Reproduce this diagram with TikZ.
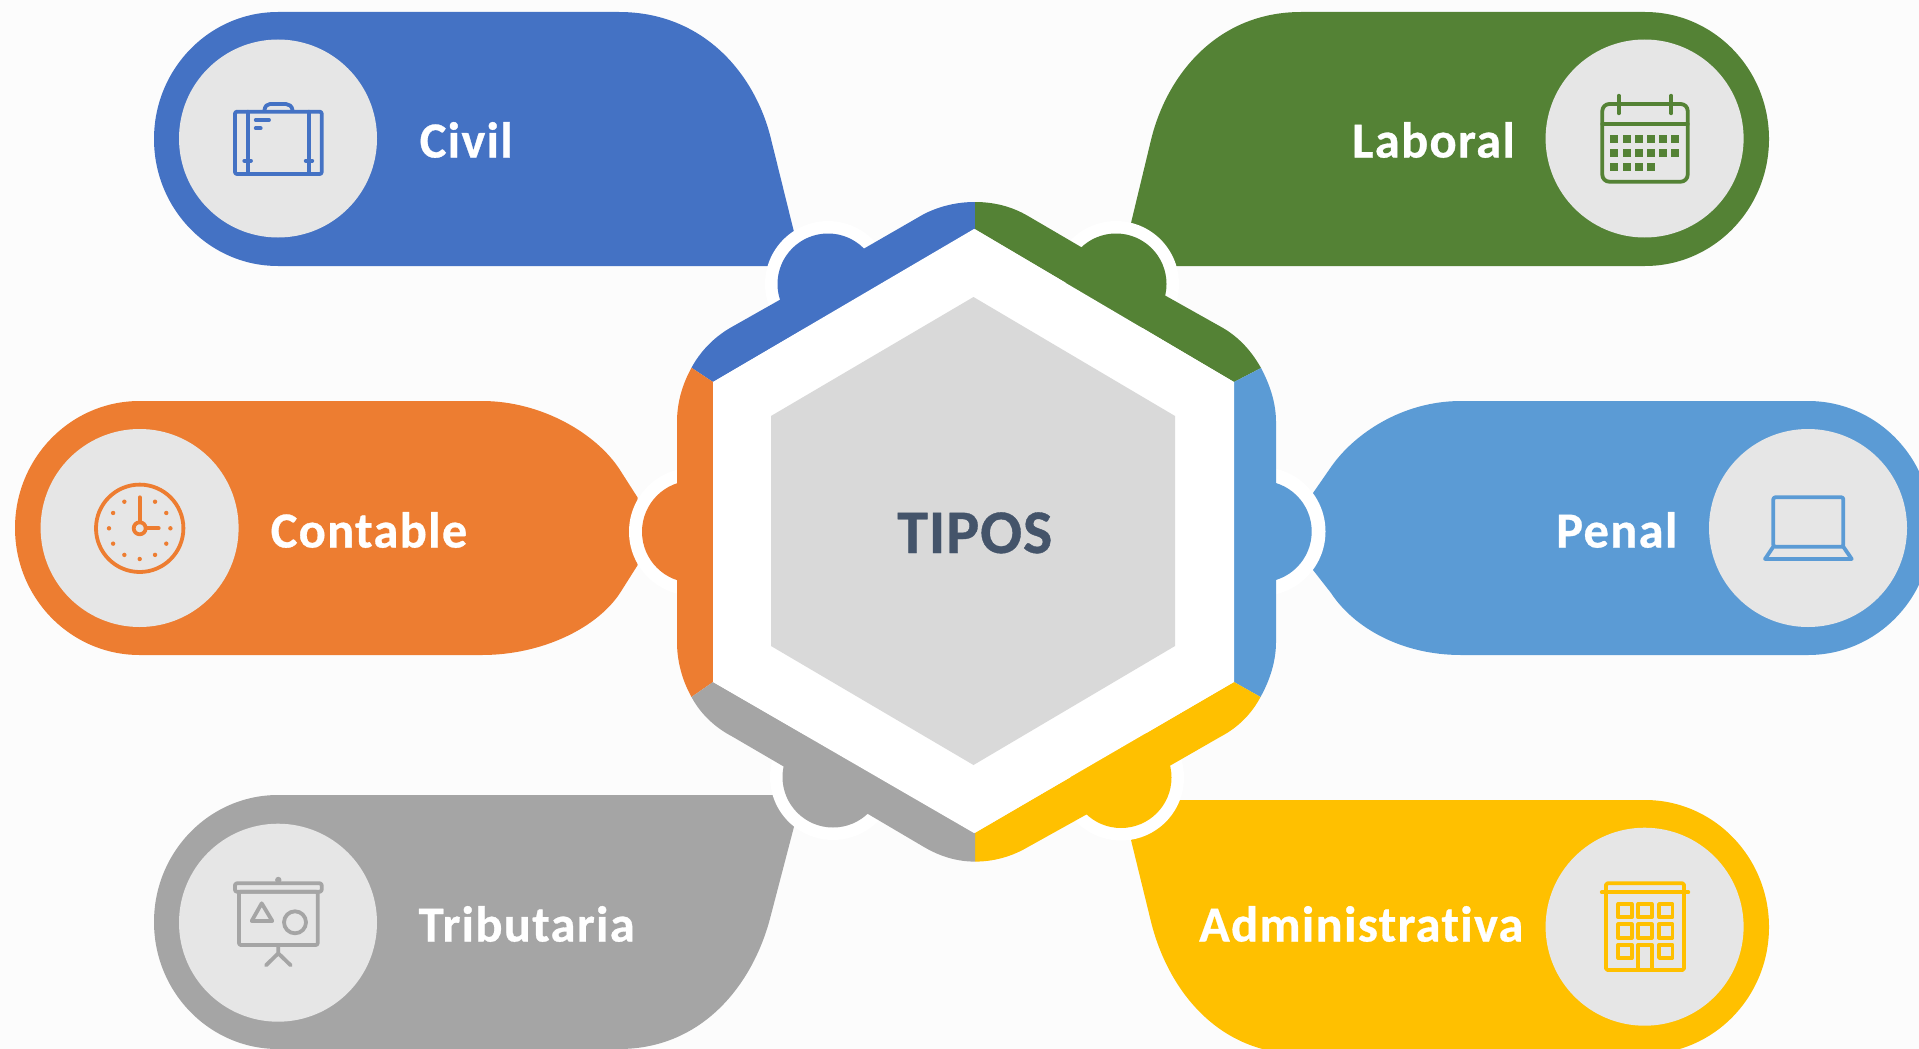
\documentclass[tikz,border=0pt]{standalone}
\usepackage{fontspec}
\setmainfont{Carlito}
\newfontface\labfont{Carlito Bold}[LetterSpace=2.6,FakeBold=0.6,Ligatures=NoCommon]
\newfontface\hexfont{Carlito Bold}[LetterSpace=1.5,FakeBold=0.6,Ligatures=NoCommon]
\definecolor{cbg}{HTML}{FCFCFC}
\definecolor{cblue}{HTML}{4472C4}
\definecolor{cgreen}{HTML}{548235}
\definecolor{corange}{HTML}{ED7D31}
\definecolor{csky}{HTML}{5B9BD5}
\definecolor{cgray}{HTML}{A5A5A5}
\definecolor{cgold}{HTML}{FFC000}
\definecolor{cdisc}{HTML}{E6E6E6}
\definecolor{chex}{HTML}{D9D9D9}
\definecolor{ctext}{HTML}{44546A}
\tikzset{
  disc/.style={fill=cdisc},
  ring/.style={fill=white},
  icon/.style={draw=#1,line width=3.8pt,line cap=round,line join=round},
  label/.style={anchor=base west,inner sep=0pt,text=white,font=\labfont\fontsize{#1}{#1}\selectfont},
}
\begin{document}
\begin{tikzpicture}[x=1pt,y=-1pt]
\useasboundingbox (0,0) rectangle (1919,1049);
\clip (0,0) rectangle (1919,1049);
\fill[cbg] (0,0) rectangle (1919,1049);
% pills
\fill[cblue] (278,12) arc[start angle=270,end angle=90,x radius=124,y radius=127] -- (775,266) -- (794,232) -- (770.5,137) .. controls (754,72) and (702,12) .. (619,12) -- cycle;
\fill[cgreen] (1645,12) arc[start angle=-90,end angle=90,x radius=124,y radius=127] -- (1170,266) -- (1131,223) -- (1151,140) .. controls (1167,74) and (1218,12) .. (1301,12) -- cycle;
\fill[corange] (139.6,401) arc[start angle=270,end angle=90,x radius=124.6,y radius=127] -- (482,655) .. controls (542,655) and (597,628) .. (620,593) -- (637.7,565) -- (637.7,497.7) -- (620,470) .. controls (597,434) and (542,401) .. (482,401) -- cycle;
\fill[csky] (1808,401) arc[start angle=-90,end angle=90,x radius=124,y radius=127] -- (1461,655) .. controls (1402,655) and (1354,628) .. (1331,593) -- (1313,570) -- (1313,493) -- (1331,467) .. controls (1354,434) and (1402,401) .. (1461,401) -- cycle;
\fill[cgray] (278,795) arc[start angle=270,end angle=90,x radius=124,y radius=127] -- (619,1049) .. controls (702,1049) and (753,985) .. (770.5,916.7) -- (794,826.7) -- (780,795) -- cycle;
\fill[cgold] (1645,800) arc[start angle=-90,end angle=90,x radius=124,y radius=127] -- (1301,1054) .. controls (1218,1054) and (1168,990) .. (1151,921.7) -- (1131,840) -- (1175,800) -- cycle;
% white rings
\fill[ring] (828,284) circle[radius=63];
\fill[ring] (1116,284) circle[radius=63];
\fill[ring] (693,531.7) circle[radius=64];
\fill[ring] (1261,531.5) circle[radius=64.5];
\fill[ring] (833,777) circle[radius=63];
\fill[ring] (1121,777.5) circle[radius=63];
% ring segments and knobs
\fill[cblue] (975,202) .. controls (957,202) and (940,206) .. (924,214) -- (865,248) -- (779.5,300) -- (730,328) .. controls (713,338) and (700,352) .. (691.5,367.7) -- (713,382) -- (975,229) -- cycle;
\fill[cblue] (828,284) circle[radius=50.5];
\fill[cgreen] (975,202) .. controls (993,202) and (1011,206) .. (1028,216) -- (1081,247) -- (1166,296) -- (1223,328) .. controls (1240,338) and (1252,352) .. (1261,368) -- (1234,382) -- (975,229) -- cycle;
\fill[cgreen] (1116,284) circle[radius=50.5];
\fill[csky] (1261,368) .. controls (1270,385) and (1276,403) .. (1276,422) -- (1276,642) .. controls (1276,661) and (1270,680) .. (1260.5,697) -- (1234,682) -- (1234,382) -- cycle;
\fill[csky] (1261,531.5) circle[radius=50.7];
\fill[corange] (691.5,367.7) .. controls (682,385) and (677,403) .. (677,422) -- (677,642) .. controls (677,661) and (682,680) .. (691.5,697) -- (713,682) -- (713,382) -- cycle;
\fill[corange] (693,531.7) circle[radius=51];
\fill[cgold] (975,861.6) .. controls (993,861.6) and (1011,857) .. (1028,847) -- (1085.5,815) -- (1170,765.7) -- (1220.5,736.7) .. controls (1239,727) and (1252,713) .. (1260.5,697) -- (1234,682) -- (975,833) -- cycle;
\fill[cgold] (1121,777.5) circle[radius=50.5];
\fill[cgray] (975,861.6) .. controls (958,861.6) and (941,857) .. (924,847) -- (868,814) -- (784,766.7) -- (732.6,736.7) .. controls (714,727) and (700,713) .. (691.5,697) -- (713,682) -- (975,833) -- cycle;
\fill[cgray] (833,777) circle[radius=50.5];
% hexagons
\fill[white] (974,229) -- (1234,382) -- (1234,682) -- (974,833) -- (713,682) -- (713,382) -- cycle;
\fill[chex] (973.5,297) -- (1175,416) -- (1175,646) -- (973.5,765) -- (771,646) -- (771,416) -- cycle;
% discs
\fill[disc] (278,138.5) circle[radius=99];
\fill[disc] (1644.6,138.5) circle[radius=99];
\fill[disc] (139.6,528) circle[radius=99];
\fill[disc] (1808,528) circle[radius=99];
\fill[disc] (278,922.7) circle[radius=99];
\fill[disc] (1644.6,926.7) circle[radius=99];
% briefcase
\begin{scope}[icon=cblue]
\draw[rounded corners=2] (235,111.7) rectangle (321.7,174);
\draw (247.7,111.7) -- (247.7,174) (308.7,111.7) -- (308.7,174);
\draw (264.3,110.7) .. controls (265,106) and (267,104) .. (270,104) -- (286,104) .. controls (289,104) and (292,106) .. (292.7,110.7);
\draw (255.7,120) -- (269,120) (255.7,128.3) -- (260.7,128.3);
\draw (244.3,160.7) -- (251,160.7) (305.7,160.7) -- (312.3,160.7);
\end{scope}
% calendar
\begin{scope}[icon=cgreen]
\draw[rounded corners=7] (1602.3,104) rectangle (1687.7,181.7);
\draw (1602.3,124.3) -- (1687.7,124.3);
\draw (1618.7,95.7) -- (1618.7,113.3) (1671.3,95.7) -- (1671.3,113.3);
\foreach \c in {0,...,5}{
  \fill[cgreen,draw=none] (1610.3+\c*12.2,135) rectangle +(8,8);
  \fill[cgreen,draw=none] (1610.3+\c*12.2,149) rectangle +(8,8);
}
\foreach \c in {0,...,3}{
  \fill[cgreen,draw=none] (1610.3+\c*12.2,163.3) rectangle +(8,8);
}
\end{scope}
% clock
\begin{scope}[icon=corange]
\draw (139.7,528.3) circle[radius=43.7];
\draw (139.7,528.3) circle[radius=6];
\draw (139.7,521) -- (139.7,497.3) (147,528.3) -- (158.7,528.3);
\foreach \a in {0,30,60,120,150,180,210,240,300,330,90}{
  \fill[corange,draw=none] (139.7,528.3) ++(\a:30.7) circle[radius=2.2];
}
\end{scope}
% laptop
\begin{scope}[icon=csky]
\draw[rounded corners=2] (1773.3,546.7) -- (1773.3,497.3) -- (1843.3,497.3) -- (1843.3,546.7) -- cycle;
\draw (1773.3,546.7) -- (1765,559) -- (1851.7,559) -- (1843.3,546.7);
\end{scope}
% presentation board
\begin{scope}[icon=cgray]
\draw[rounded corners=2] (235,883.3) rectangle (321.7,891.7);
\fill[cgray,draw=none] (278.3,880) circle[radius=3.2];
\draw[rounded corners=2] (239,891.7) rectangle (317.7,945);
\draw (278.3,945) -- (278.3,953.3) -- (266,965.3) (278.3,953.3) -- (290.7,965.3);
\draw (261.7,903.3) -- (272.3,921) -- (251.7,921) -- cycle;
\draw (295,922.3) circle[radius=11];
\end{scope}
% building
\begin{scope}[icon=cgold]
\draw[rounded corners=1.5] (1606,883.3) rectangle (1684,970);
\draw (1601.7,892.3) -- (1688.3,892.3);
\foreach \x in {1618.3,1638.3,1659}{
  \draw (\x,904) rectangle +(13.4,13.3);
  \draw (\x,924.3) rectangle +(13.4,13.3);
}
\draw (1618.3,944.7) rectangle +(13.4,13.3);
\draw (1659,944.7) rectangle +(13.4,13.3);
\draw (1638.3,970) -- (1638.3,944.7) -- (1651.7,944.7) -- (1651.7,970);
\end{scope}
% labels
\node[label=50.5] (civil) at (419.5,157.5) {Civil};
\node[label=50.5] (laboral) at (1352,157.5) {Laboral};
\node[label=50.5] (contable) at (270.5,547.5) {Contable};
\node[label=50.5] (penal) at (1556,547.5) {Penal};
\node[label=50.5] (tributaria) at (418.5,941.5) {Tributaria};
\node[label=50.5] (administrativa) at (1199,941.5) {Administrativa};
\node[anchor=base west,inner sep=0pt,text=ctext,font=\hexfont\fontsize{62}{62}\selectfont] (tipos) at (897,553) {TIPOS};
\end{tikzpicture}
\end{document}
